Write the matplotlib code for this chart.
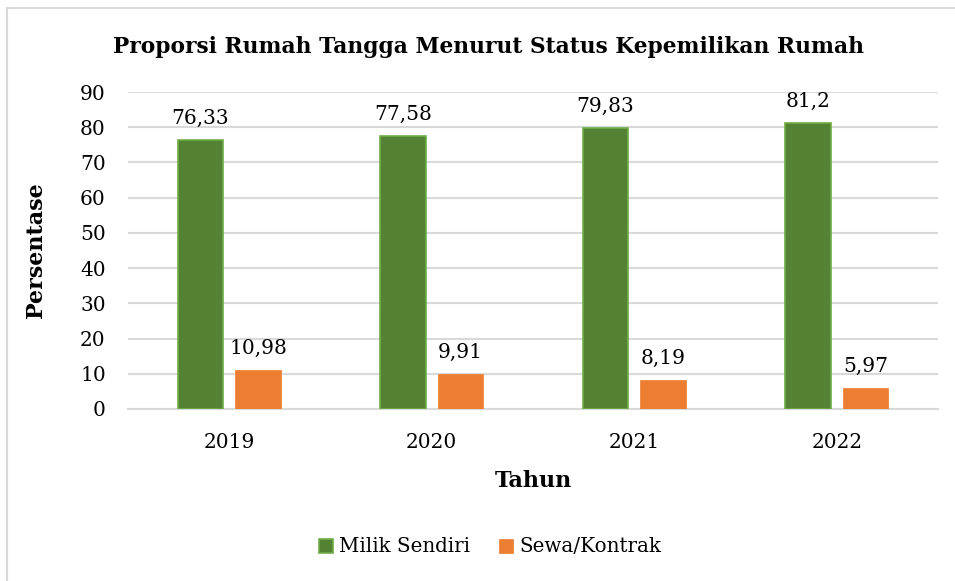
import matplotlib
matplotlib.use("Agg")
import matplotlib.pyplot as plt
import numpy as np
from matplotlib.lines import Line2D

years = ["2019", "2020", "2021", "2022"]
milik_sendiri = [76.33, 77.58, 79.83, 81.2]
sewa_kontrak = [10.98, 9.91, 8.19, 5.97]
milik_labels = ["76,33", "77,58", "79,83", "81,2"]
sewa_labels = ["10,98", "9,91", "8,19", "5,97"]
yticks = [0, 10, 20, 30, 40, 50, 60, 70, 80, 90]

plt.rcParams['font.family'] = ['DejaVu Serif']

fig = plt.figure(figsize=(9.55, 5.81), dpi=100)
ax = fig.add_axes([128/955, 1 - 409/581, 810/955, (409-92)/581])

x = np.arange(len(years))
w = 0.225
off = 0.143
green = '#548235'
orange = '#ED7D31'
b1 = ax.bar(x - off, milik_sendiri, w, color=green, edgecolor='#70AD47', linewidth=1.2, zorder=3)
b2 = ax.bar(x + off, sewa_kontrak, w, color=orange, edgecolor=orange, linewidth=0.5, zorder=3)

for xi, v, lab in zip(x, milik_sendiri, milik_labels):
    ax.text(xi - off, v + 3.5, lab, ha='center', va='bottom', fontsize=14.5, color='#000000')
for xi, v, lab in zip(x, sewa_kontrak, sewa_labels):
    ax.text(xi + off, v + 3.5, lab, ha='center', va='bottom', fontsize=14.5, color='#000000')

ax.set_xlim(-0.5, 3.5)
ax.set_ylim(0, 90)
ax.set_yticks(yticks)
ax.set_yticklabels([str(t) for t in yticks], fontsize=14.5)
ax.set_xticks(x)
ax.set_xticklabels(years, fontsize=14.5)
ax.tick_params(axis='both', length=0)
ax.tick_params(axis='y', pad=16)
ax.tick_params(axis='x', pad=17)
ax.grid(axis='y', color='#D9D9D9', linewidth=1.5, zorder=0)
ax.set_axisbelow(True)
for s in ['top', 'right', 'left']:
    ax.spines[s].set_visible(False)
ax.spines['bottom'].set_color('#D9D9D9')
ax.spines['bottom'].set_linewidth(1.5)

ax.set_xlabel('Tahun', fontsize=16, fontweight='bold', labelpad=13)
ax.set_ylabel('Persentase', fontsize=16, fontweight='bold', labelpad=24)

fig.text(488/955, 1 - 47/581, 'Proporsi Rumah Tangga Menurut Status Kepemilikan Rumah',
         ha='center', va='center', fontsize=15.7, fontweight='bold')

ax.legend([b1, b2], ['Milik Sendiri', 'Sewa/Kontrak'], loc='center',
          bbox_to_anchor=(490/955, 1 - 547/581), bbox_transform=fig.transFigure,
          ncol=2, frameon=False, fontsize=14.3, handlelength=0.7, handleheight=0.7,
          columnspacing=1.5, handletextpad=0.3)

fig.add_artist(Line2D([7/955, 7/955], [0, 1 - 8/581], transform=fig.transFigure, color='#D9D9D9', linewidth=1.5))
fig.add_artist(Line2D([7/955, 1], [1 - 8/581, 1 - 8/581], transform=fig.transFigure, color='#D9D9D9', linewidth=1.5))

fig.savefig('out.png', dpi=100)
